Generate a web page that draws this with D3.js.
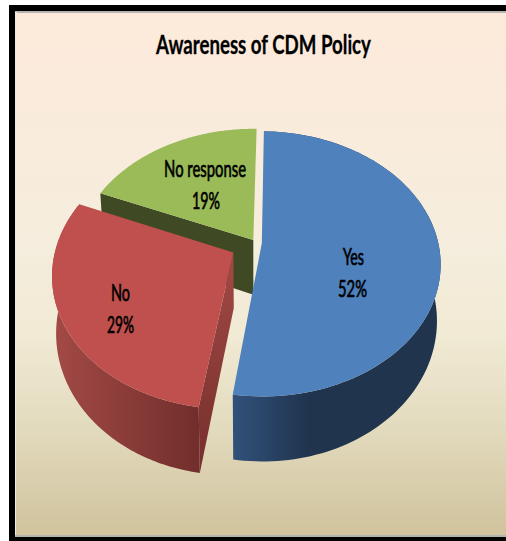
<!DOCTYPE html>
<html>
<head>
<meta charset="utf-8">
<script src="https://cdnjs.cloudflare.com/ajax/libs/d3/7.8.5/d3.min.js"></script>
<style>
  html, body { margin: 0; padding: 0; background: #fff; }
  svg { display: block; }
  text { font-family: Lato, "Open Sans", sans-serif; fill: #000; }
</style>
</head>
<body>
<svg id="chart" width="506" height="541"></svg>
<script>
// Chart content
const chartTitle = "Awareness of CDM Policy";
const categories = ["Yes", "No", "No response"];
const shares = [52, 29, 19];

// Per-slice styling, in category order
const topColors = ["#4f81bd", "#c0504d", "#9bbb59"];
const wallLight = ["#31517a", "#a34a46", "#3f4a24"];
const wallDark = ["#20344e", "#722e2c", "#3f4a24"];
const explode = [0.033, 0.146, 0.028];

// Label placement: [centre x, baseline, drawn width] for the name and for the share
const nameLabels = [[353.5, 265, 21], [120.5, 301, 19], [205, 177, 82]];
const shareLabels = [[352.5, 297, 29], [120.5, 333, 27], [206, 209, 28]];

const W = 506, H = 541;
const svg = d3.select("#chart");
const defs = svg.append("defs");

// Panel background and frame
const bg = defs.append("linearGradient").attr("id", "panelFill")
  .attr("x1", 0).attr("y1", 0).attr("x2", 0).attr("y2", 1);
[[0, "#fdeadb"], [0.45, "#f5eddd"], [0.62, "#f1ead4"], [0.8, "#e2dabd"], [1, "#d0c39d"]]
  .forEach(([o, c]) => bg.append("stop").attr("offset", o).attr("stop-color", c));

svg.append("rect").attr("x", 9).attr("y", 5).attr("width", W - 9).attr("height", H - 5).attr("fill", "#000");
svg.append("rect").attr("x", 15).attr("y", 11).attr("width", W - 15).attr("height", 526).attr("fill", "#b5b5b0");
svg.append("rect").attr("x", 15).attr("y", 12).attr("width", 2).attr("height", 523).attr("fill", "#ecebe6");
svg.append("rect").attr("x", 16).attr("y", 13).attr("width", W - 16).attr("height", 522).attr("fill", "url(#panelFill)");

// Perspective view of the tilted disc: ground coordinates (X right, Y toward the viewer)
const view = { cx: 256, cy: 243, dist: 6.46, fx: 1140, fy: 835, drop: 355, shrink: 0.98 };

function project(X, Y, lower) {
  const k = view.dist - Y;
  const sx = view.fx * X / k;
  const sy = view.fy * Y / k;
  return lower
    ? [view.cx + sx * view.shrink, view.cy + sy + view.drop / k]
    : [view.cx + sx, view.cy + sy];
}

// First slice begins just past twelve o'clock
const rotation = 1.1 * Math.PI / 180;
const pieLayout = d3.pie().sort(null).value(d => d)
  .startAngle(rotation).endAngle(2 * Math.PI + rotation);
const slices = pieLayout(shares).map((s, i) => {
  const mid = (s.startAngle + s.endAngle) / 2;
  return {
    ...s, i,
    ox: Math.sin(mid) * explode[i],
    oy: -Math.cos(mid) * explode[i]
  };
});

const rimPoint = (s, a, lower) =>
  project(s.ox + Math.sin(a), s.oy - Math.cos(a), lower);
const hubPoint = (s, lower) => project(s.ox, s.oy, lower);

function rim(s, lower) {
  const steps = d3.range(0, 121).map(j => s.startAngle + (s.endAngle - s.startAngle) * j / 120);
  return steps.map(a => rimPoint(s, a, lower));
}

const outline = d3.line().curve(d3.curveLinearClosed);

function wallGradient(id, x1, x2, from, to) {
  const g = defs.append("linearGradient").attr("id", id)
    .attr("gradientUnits", "userSpaceOnUse")
    .attr("x1", x1).attr("x2", x2).attr("y1", 0).attr("y2", 0);
  g.append("stop").attr("offset", 0).attr("stop-color", from);
  g.append("stop").attr("offset", 1).attr("stop-color", to);
}

// Draw back to front: No response, No, Yes
[2, 1, 0].forEach(i => {
  const s = slices[i];
  const g = svg.append("g").attr("class", "slice-" + i);
  const top = rim(s, false), low = rim(s, true);

  // Outer curved wall
  if (i !== 2) {
    if (i === 0) {
      wallGradient("wall0", low[120][0], low[120][0] + 75, wallLight[i], wallDark[i]);
    } else {
      wallGradient("wall1", d3.min(top, p => p[0]), top[0][0], wallLight[i], wallDark[i]);
    }
    g.append("path")
      .attr("d", outline(top.concat(low.slice().reverse())))
      .attr("fill", `url(#wall${i})`);
  }

  // Flat cut faces that turn toward the viewer
  if (i === 2) {
    g.append("path")
      .attr("d", outline([hubPoint(s, false), top[0], low[0], hubPoint(s, true)]))
      .attr("fill", wallDark[i]);
  }
  if (i === 1) {
    const cut = defs.append("linearGradient").attr("id", "cut1")
      .attr("gradientUnits", "userSpaceOnUse")
      .attr("x1", 0).attr("x2", 0)
      .attr("y1", hubPoint(s, false)[1]).attr("y2", low[0][1]);
    cut.append("stop").attr("offset", 0).attr("stop-color", "#a34a46");
    cut.append("stop").attr("offset", 1).attr("stop-color", "#742e2c");
    g.append("path")
      .attr("d", outline([hubPoint(s, false), top[0], low[0], hubPoint(s, true)]))
      .attr("fill", "url(#cut1)");
  }

  // Top face
  g.append("path")
    .attr("d", outline([hubPoint(s, false)].concat(top)))
    .attr("fill", topColors[i]);
});

// Condensed text: squeeze each string horizontally to its drawn width
function fittedText(str, x, baseline, width, size, weight, strokeWidth) {
  const t = svg.append("text")
    .attr("text-anchor", "middle")
    .attr("font-size", size)
    .attr("font-weight", weight)
    .attr("stroke", "#000")
    .attr("stroke-width", strokeWidth)
    .text(str);
  const natural = t.node().getComputedTextLength();
  t.attr("transform", `translate(${x},${baseline}) scale(${width / natural},1)`);
  return t;
}

fittedText(chartTitle, 263.5, 53.5, 215, 27, 700, 0.3);

slices.forEach(s => {
  const [nx, ny, nw] = nameLabels[s.i];
  const [px, py, pw] = shareLabels[s.i];
  fittedText(categories[s.i], nx, ny, nw, 23, 400, 0.7);
  fittedText(shares[s.i] + "%", px, py, pw, 23, 400, 0.7);
});
</script>
</body>
</html>
